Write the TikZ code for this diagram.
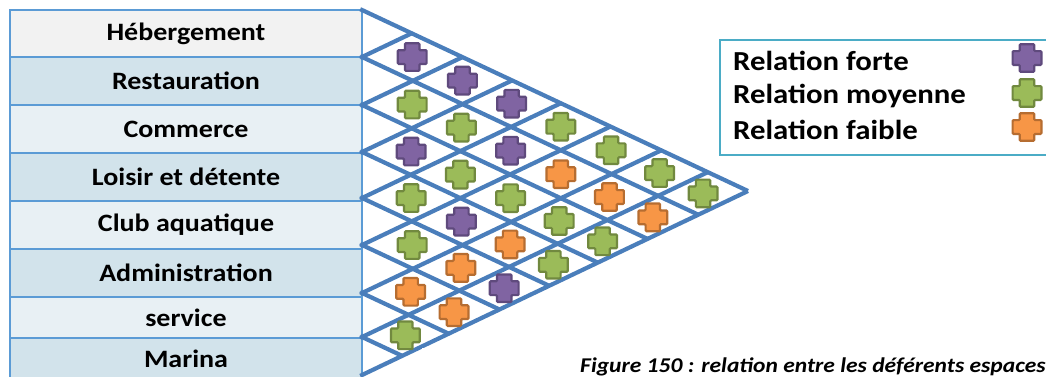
\documentclass[tikz,border=0pt]{standalone}
\usepackage{fontspec}
\setmainfont{Carlito}[FakeStretch=1.12]
\definecolor{rowgray}{HTML}{F2F2F2}
\definecolor{rowdark}{HTML}{D2E3EB}
\definecolor{rowlight}{HTML}{E8F0F4}
\definecolor{boxline}{HTML}{5B9BD5}
\definecolor{gridblue}{HTML}{4A7EBB}
\definecolor{legline}{HTML}{4BACC6}
\definecolor{purpfill}{HTML}{8064A2}
\definecolor{purpline}{HTML}{5F4A7D}
\definecolor{greenfill}{HTML}{9BBB59}
\definecolor{greenline}{HTML}{71893F}
\definecolor{orangefill}{HTML}{F79646}
\definecolor{orangeline}{HTML}{B66D31}
\begin{document}
\begin{tikzpicture}[x=1pt,y=-1pt,
  rowlabel/.style={font=\fontsize{25}{28}\selectfont\bfseries, text=black, inner sep=0pt},
  leglabel/.style={font=\fontsize{27.5}{30}\selectfont\bfseries, text=black, inner sep=0pt, anchor=west},
  rowbox/.style={draw=boxline, line width=1.6pt},
  gridline/.style={draw=gridblue, line width=4.2pt},
  relP/.style={fill=purpfill, draw=purpline, line width=2.2pt},
  relG/.style={fill=greenfill, draw=greenline, line width=2.2pt},
  relO/.style={fill=orangefill, draw=orangeline, line width=2.2pt},
  relmark/.pic={\path[pic actions, rounded corners=1pt] (-7.2,-13.8) -- (7.2,-13.8) -- (7.2,-6.9) -- (14.4,-6.9) -- (14.4,6.9) -- (7.2,6.9) -- (7.2,13.8) -- (-7.2,13.8) -- (-7.2,6.9) -- (-14.4,6.9) -- (-14.4,-6.9) -- (-7.2,-6.9) -- cycle;}
]
\useasboundingbox (0,0) rectangle (1046,376);
\clip (0,0) rectangle (1046,376);
% left column of spaces
\path[rowbox, fill=rowgray]  (10,10)  rectangle (362,57);
\path[rowbox, fill=rowdark]  (10,57)  rectangle (362,105);
\path[rowbox, fill=rowlight] (10,105) rectangle (362,153);
\path[rowbox, fill=rowdark]  (10,153) rectangle (362,201);
\path[rowbox, fill=rowlight] (10,201) rectangle (362,249);
\path[rowbox, fill=rowdark]  (10,249) rectangle (362,297);
\path[rowbox, fill=rowlight] (10,297) rectangle (362,338);
\path[rowbox, fill=rowdark]  (10,338) rectangle (362,390);
\node[rowlabel] (heb) at (186,33.5) {Hébergement};
\node[rowlabel] (res) at (186,81) {Restauration};
\node[rowlabel] (com) at (186,129) {Commerce};
\node[rowlabel] (loi) at (186,177) {Loisir et détente};
\node[rowlabel] (clu) at (186,225) {Club aquatique};
\node[rowlabel] (adm) at (186,273) {Administration};
\node[rowlabel] (ser) at (186,318) {service};
\node[rowlabel] (mar) at (186,359) {Marina};
% triangular relation grid
\def\PY{{10,57,105,152,198,245,293,337,375}}
\pgfmathsetmacro\sA{181/386}
\pgfmathsetmacro\sB{184/386}
\pgfmathsetmacro\sS{\sA+\sB}
\foreach \k in {0,...,8}{
  \pgfmathsetmacro\yk{\PY[\k]}
  \pgfmathsetmacro\td{(375-\yk)/\sS}
  \pgfmathsetmacro\tu{(\yk-10)/\sS}
  \coordinate (p\k) at (362,\yk);
  \coordinate (d\k) at ({362+\td},{\yk+\sA*\td});
  \coordinate (u\k) at ({362+\tu},{\yk-\sB*\tu});
}
\foreach \k in {0,...,7}{
  \draw[gridline, shorten <=-2pt] (p\k) -- (d\k);
}
\foreach \k in {1,...,8}{
  \draw[gridline, shorten <=-2pt] (p\k) -- (u\k);
}
% relation marks
\foreach \i/\j/\col in {1/2/relP, 2/3/relG, 3/4/relP, 4/5/relG, 5/6/relG, 6/7/relO, 7/8/relG,
  1/3/relP, 2/4/relG, 3/5/relG, 4/6/relP, 5/7/relO, 6/8/relO,
  1/4/relP, 2/5/relP, 3/6/relG, 4/7/relO, 5/8/relP,
  1/5/relG, 2/6/relO, 3/7/relG, 4/8/relG,
  1/6/relG, 2/7/relO, 3/8/relG,
  1/7/relG, 2/8/relO,
  1/8/relG}{
  \pgfmathsetmacro\ya{\PY[\i-1]}
  \pgfmathsetmacro\yb{\PY[\i]}
  \pgfmathsetmacro\yc{\PY[\j-1]}
  \pgfmathsetmacro\yd{\PY[\j]}
  \pgfmathsetmacro\tone{(\yc-\ya)/\sS}
  \pgfmathsetmacro\ttwo{(\yd-\yb)/\sS}
  \pgfmathsetmacro\cx{362+(\tone+\ttwo)/2}
  \pgfmathsetmacro\cy{(\ya+\sA*\tone+\yb+\sA*\ttwo)/2}
  \pic[\col] at (\cx,\cy) {relmark};
}
% caption box (covers the lower part)
\fill[white] (422,348) rectangle (1046,376);
\node[font=\fontsize{21}{24}\selectfont\bfseries\itshape, inner sep=0pt, anchor=base west] (cap) at (580,372) {Figure 150 : relation entre les déférents espaces};
% legend
\draw[legline, line width=2.5pt, fill=white] (720,40) rectangle (1060,155);
\node[leglabel] (lf) at (733,61) {Relation forte};
\node[leglabel] (lm) at (733,96) {Relation moyenne};
\node[leglabel] (lw) at (733,130) {Relation faible};
\pic[relP] at (1027,58) {relmark};
\pic[relG] at (1027,93) {relmark};
\pic[relO] at (1027,127) {relmark};
\end{tikzpicture}
\end{document}
